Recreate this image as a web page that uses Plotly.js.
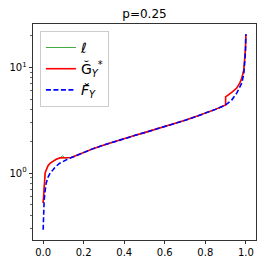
<!DOCTYPE html>
<html>
<head>
<meta charset="utf-8">
<script src="https://cdn.plot.ly/plotly-3.0.1.min.js"></script>
<style>html,body{margin:0;padding:0;background:#fff;}#chart{width:266px;height:266px;}</style>
</head>
<body>
<div id="chart"></div>
<script>
// Breve F_Y (blue dashed)
const xF = [0, 0.003, 0.005, 0.01, 0.015, 0.025, 0.035, 0.05, 0.06, 0.08, 0.1, 0.12, 0.14, 0.17, 0.2, 0.25, 0.3, 0.35, 0.4, 0.45, 0.5, 0.55, 0.6, 0.65, 0.7, 0.75, 0.8, 0.85, 0.9, 0.93, 0.955, 0.97, 0.98, 0.99, 0.995, 0.998, 1.0];
const yF = [0.29, 0.45, 0.55, 0.68, 0.8, 0.92, 1.0, 1.08, 1.14, 1.23, 1.3, 1.35, 1.4, 1.48, 1.57, 1.71, 1.84, 1.98, 2.12, 2.26, 2.41, 2.57, 2.75, 2.94, 3.15, 3.4, 3.68, 4.0, 4.4, 4.9, 5.7, 6.4, 7.1, 8.7, 11.2, 14, 20.6];
// Breve G*_Y (red solid)
const xG = [0, 0.003, 0.006, 0.01, 0.018, 0.025, 0.035, 0.05, 0.065, 0.083, 0.1, 0.12, 0.138, 0.17, 0.2, 0.25, 0.3, 0.35, 0.4, 0.45, 0.5, 0.55, 0.6, 0.65, 0.7, 0.75, 0.8, 0.85, 0.9, 0.9, 0.93, 0.955, 0.97, 0.98, 0.99, 0.995, 0.998, 1.0];
const yG = [0.52, 0.7, 0.85, 1.0, 1.1, 1.18, 1.24, 1.3, 1.35, 1.39, 1.39, 1.39, 1.4, 1.48, 1.57, 1.71, 1.84, 1.98, 2.12, 2.26, 2.41, 2.57, 2.75, 2.94, 3.15, 3.4, 3.68, 4.0, 4.4, 5.24, 5.8, 6.37, 7.1, 7.9, 9.5, 12.3, 15, 20.6];
// ell (green thin)
const xL = [0, 0.003, 0.006, 0.01, 0.018, 0.025, 0.035, 0.05, 0.065, 0.083, 0.095, 0.1, 0.105, 0.12, 0.138, 0.17, 0.2, 0.25, 0.3, 0.35, 0.4, 0.45, 0.5, 0.55, 0.6, 0.65, 0.7, 0.75, 0.8, 0.85, 0.9, 0.9, 0.93, 0.955, 0.97, 0.98, 0.99, 0.995, 0.998, 1.0];
const yL = [0.52, 0.7, 0.85, 1.0, 1.1, 1.18, 1.24, 1.3, 1.35, 1.39, 1.45, 1.44, 1.39, 1.39, 1.4, 1.48, 1.57, 1.71, 1.84, 1.98, 2.12, 2.26, 2.41, 2.57, 2.75, 2.94, 3.15, 3.4, 3.68, 4.0, 4.4, 5.24, 5.8, 6.37, 7.1, 7.9, 9.5, 12.3, 15, 20.6];

const xTicks = [0, 0.2, 0.4, 0.6, 0.8, 1.0];
const xTickText = ["0.0", "0.2", "0.4", "0.6", "0.8", "1.0"];
const yTicks = [1, 10];
const yTickText = ["10<sup>0</sup>", "10<sup>1</sup>"];
const yMinor = [0.3, 0.4, 0.5, 0.6, 0.7, 0.8, 0.9, 2, 3, 4, 5, 6, 7, 8, 9, 20];

const traces = [
  {x: xL, y: yL, mode: 'lines', name: '<i>ℓ</i>', line: {color: '#2ca02c', width: 0.9}},
  {x: xG, y: yG, mode: 'lines', name: 'Ğ<sub><i>Y</i></sub><sup>*</sup>', line: {color: '#ff0000', width: 1.6}},
  {x: xF, y: yF, mode: 'lines', name: '<i>F̆</i><sub><i>Y</i></sub>', line: {color: '#0000ff', width: 1.6, dash: '5px,2.5px'}}
];

const axisFont = {family: 'DejaVu Sans', size: 10, color: '#000'};
const layout = {
  width: 266, height: 266,
  margin: {l: 33, r: 10, t: 24, b: 26, pad: 0},
  paper_bgcolor: '#fff', plot_bgcolor: '#fff',
  showlegend: true,
  title: {text: 'p=0.25', font: {family: 'DejaVu Sans', size: 12, color: '#000'}, xref: 'paper', x: 0.5, xanchor: 'center', yref: 'container', y: 0.948, yanchor: 'middle'},
  xaxis: {range: [-0.05, 1.05], tickmode: 'array', tickvals: xTicks, ticktext: xTickText, ticks: 'outside', ticklen: 3.5, tickwidth: 0.8, tickcolor: '#000',
          showgrid: false, zeroline: false, showline: true, linecolor: '#000', linewidth: 0.8, mirror: true, tickfont: axisFont},
  yaxis: {type: 'log', range: [-0.634, 1.41], tickmode: 'array', tickvals: yTicks, ticktext: yTickText, ticks: 'outside', ticklen: 3.5, tickwidth: 0.8, tickcolor: '#000',
          minor: {tickmode: 'array', tickvals: yMinor, ticks: 'outside', ticklen: 2, tickwidth: 0.6, tickcolor: '#000', showgrid: false},
          showgrid: false, zeroline: false, showline: true, linecolor: '#000', linewidth: 0.8, mirror: true, tickfont: axisFont},
  legend: {x: 0.031, y: 0.968, xanchor: 'left', yanchor: 'top', bgcolor: 'rgba(255,255,255,0.8)', bordercolor: '#cccccc', borderwidth: 1,
           font: {family: 'DejaVu Sans', size: 14, color: '#000'}, tracegroupgap: 0, itemwidth: 30}
};

Plotly.newPlot('chart', traces, layout, {displayModeBar: false, staticPlot: true});
</script>
</body>
</html>
